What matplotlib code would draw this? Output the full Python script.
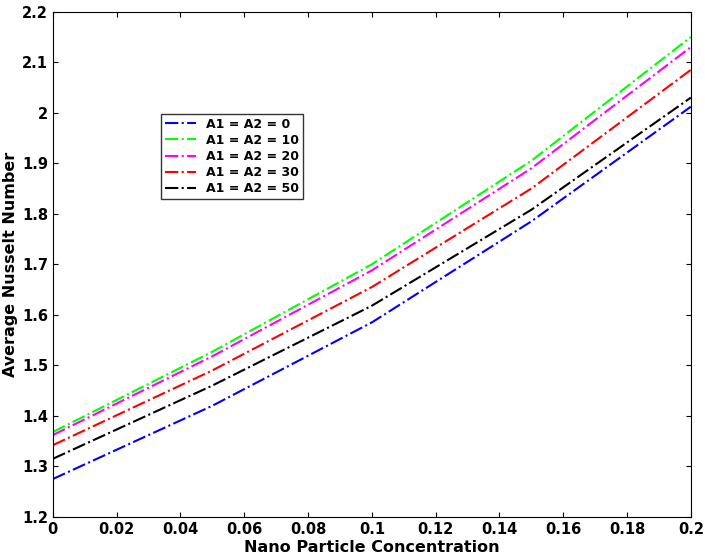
import matplotlib
matplotlib.use("Agg")
import matplotlib.pyplot as plt

x = [0, 0.05, 0.1, 0.15, 0.2]
s0 = [1.275, 1.42, 1.585, 1.785, 2.012]
s10 = [1.368, 1.527, 1.700, 1.905, 2.150]
s20 = [1.362, 1.518, 1.688, 1.890, 2.130]
s30 = [1.342, 1.490, 1.655, 1.850, 2.085]
s50 = [1.315, 1.460, 1.618, 1.808, 2.030]
labels = ["A1 = A2 = 0", "A1 = A2 = 10", "A1 = A2 = 20", "A1 = A2 = 30", "A1 = A2 = 50"]
colors = ["#0000ff", "#00ff00", "#ff00ff", "#ff0000", "#000000"]

fig = plt.figure(figsize=(7.05, 5.57), dpi=100)
ax = fig.add_axes([0.075, 0.072, 0.905, 0.907])
for s, l, c in zip([s0, s10, s20, s30, s50], labels, colors):
    ax.plot(x, s, linestyle="-.", color=c, linewidth=1.5, label=l)
ax.set_xlim(0, 0.2)
ax.set_ylim(1.2, 2.2)
ax.set_xticks([0, 0.02, 0.04, 0.06, 0.08, 0.1, 0.12, 0.14, 0.16, 0.18, 0.2])
ax.set_xticklabels(["0", "0.02", "0.04", "0.06", "0.08", "0.1", "0.12", "0.14", "0.16", "0.18", "0.2"])
ax.set_yticks([1.2 + 0.1 * i for i in range(11)])
ax.set_yticklabels(["1.2", "1.3", "1.4", "1.5", "1.6", "1.7", "1.8", "1.9", "2", "2.1", "2.2"])
for t in ax.get_xticklabels() + ax.get_yticklabels():
    t.set_fontweight("bold")
    t.set_fontsize(10.5)
ax.tick_params(direction="in", top=True, right=True)
ax.set_xlabel("Nano Particle Concentration", fontweight="bold", fontsize=11.5, labelpad=2)
ax.set_ylabel("Average Nusselt Number", fontweight="bold", fontsize=11.5, labelpad=3)
leg = ax.legend(loc="upper left", bbox_to_anchor=(0.16, 0.81), prop={"weight": "bold", "size": 9},
                frameon=True, fancybox=False, edgecolor="black", borderpad=0.3, labelspacing=0.25,
                handlelength=2.5)
leg.get_frame().set_linewidth(1.0)
fig.savefig("out.png")
